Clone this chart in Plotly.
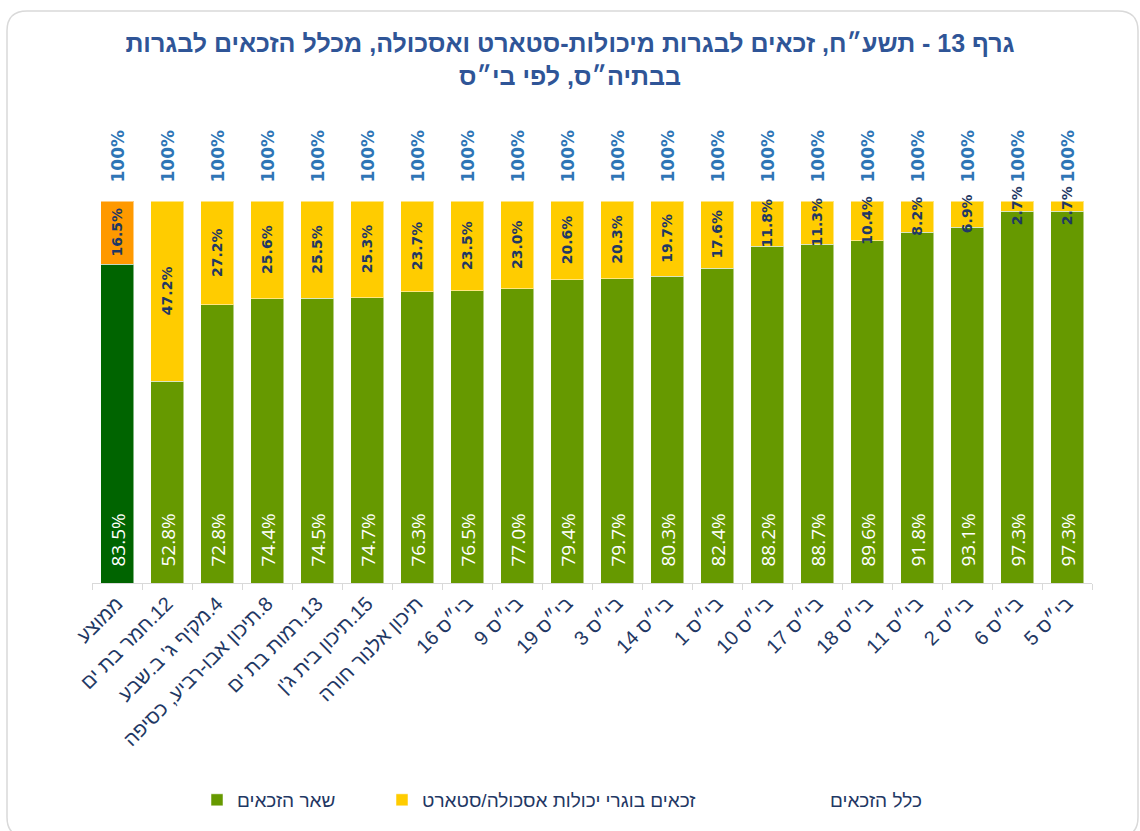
import plotly.graph_objects as go

RLM = "\u200f"

# ---------------- data ----------------
categories = [
    "ממוצע",
    RLM + "12.חמר בת ים",
    RLM + "4.מקיף ג' ב.שבע",
    RLM + "8.תיכון אבו-רביע, כסיפה",
    RLM + "13.רמות בת ים",
    RLM + "15.תיכון בית ג'ן",
    RLM + "תיכון אלנור חורה",
    RLM + "בי״ס 16",
    RLM + "בי״ס 9",
    RLM + "בי״ס 19",
    RLM + "בי״ס 3",
    RLM + "בי״ס 14",
    RLM + "בי״ס 1",
    RLM + "בי״ס 10",
    RLM + "בי״ס 17",
    RLM + "בי״ס 18",
    RLM + "בי״ס 11",
    RLM + "בי״ס 2",
    RLM + "בי״ס 6",
    RLM + "בי״ס 5",
]
other_pct = [83.5, 52.8, 72.8, 74.4, 74.5, 74.7, 76.3, 76.5, 77.0, 79.4,
             79.7, 80.3, 82.4, 88.2, 88.7, 89.6, 91.8, 93.1, 97.3, 97.3]
start_pct = [16.5, 47.2, 27.2, 25.6, 25.5, 25.3, 23.7, 23.5, 23.0, 20.6,
             20.3, 19.7, 17.6, 11.8, 11.3, 10.4, 8.2, 6.9, 2.7, 2.7]
total_pct = [100, 100, 100, 100, 100, 100, 100, 100, 100, 100,
             100, 100, 100, 100, 100, 100, 100, 100, 100, 100]

name_other = "שאר הזכאים"
name_start = "זכאים בוגרי יכולות אסכולה/סטארט"
name_total = "כלל הזכאים"
title_text = (RLM + "גרף 13 - תשע״ח, זכאים לבגרות מיכולות-סטארט ואסכולה, מכלל הזכאים לבגרות<br>"
              + RLM + "בבתיה״ס, לפי בי״ס")

# ---------------- styles ----------------
GREEN, GREEN_AVG = "#669900", "#006400"
YELLOW, ORANGE_AVG = "#FFCC00", "#FF9900"
NAVY = "#1F3864"
BLUE = "#2E75B6"
HEB_FONT = "Liberation Sans"
EDGE = dict(color="rgba(255,255,255,0.5)", width=1)

avg_x = categories[:1]
sch_x = categories[1:]

fig = go.Figure()
# bottom segments (average bar highlighted in its own colour)
fig.add_trace(go.Bar(x=avg_x, y=[v / 100 for v in other_pct[:1]], name=name_other,
                     marker=dict(color=GREEN_AVG, line=EDGE), showlegend=False,
                     legend="legend", hoverinfo="x+y"))
fig.add_trace(go.Bar(x=sch_x, y=[v / 100 for v in other_pct[1:]], name=name_other,
                     marker=dict(color=GREEN, line=EDGE), showlegend=True,
                     legend="legend", hoverinfo="x+y"))
# top segments
fig.add_trace(go.Bar(x=avg_x, y=[v / 100 for v in start_pct[:1]], name=name_start,
                     marker=dict(color=ORANGE_AVG, line=EDGE), showlegend=False,
                     legend="legend2", hoverinfo="x+y"))
fig.add_trace(go.Bar(x=sch_x, y=[v / 100 for v in start_pct[1:]], name=name_start,
                     marker=dict(color=YELLOW, line=EDGE), showlegend=True,
                     legend="legend2", hoverinfo="x+y"))
# totals (invisible series, labelled above the bars)
fig.add_trace(go.Scatter(x=categories, y=[v / 100 for v in total_pct], name=name_total,
                         mode="markers", marker=dict(color="rgba(0,0,0,0)", size=10),
                         showlegend=True, legend="legend3", hoverinfo="x+y"))

annotations = []
for c, g, s, t in zip(categories, other_pct, start_pct, total_pct):
    annotations.append(dict(
        x=c, y=0, xref="x", yref="y", text=f"{g:.1f}%", textangle=-90,
        yanchor="bottom", xanchor="center", yshift=14, showarrow=False,
        font=dict(family="Open Sans", size=19, color="white"),
    ))
    annotations.append(dict(
        x=c, y=(g + s / 2) / 100, xref="x", yref="y", text=f"{s:.1f}%", textangle=-90,
        yanchor="middle", xanchor="center", showarrow=False,
        font=dict(family="DejaVu Sans", size=14, color=NAVY, weight="bold"),
    ))
    annotations.append(dict(
        x=c, y=t / 100, xref="x", yref="y", text=f"{t:.0f}%", textangle=-90,
        yanchor="bottom", xanchor="center", yshift=16, showarrow=False,
        font=dict(family="DejaVu Sans", size=17, color=BLUE, weight="bold"),
    ))

# rounded frame around the chart (paper coordinates)
L, R, T, B = -0.085, 1.046, 1.4974, -0.665
rx, ry = 0.02, 0.052
frame_path = (f"M {L+rx},{T} L {R-rx},{T} Q {R},{T} {R},{T-ry} "
              f"L {R},{B+ry} Q {R},{B} {R-rx},{B} L {L+rx},{B} "
              f"Q {L},{B} {L},{B+ry} L {L},{T-ry} Q {L},{T} {L+rx},{T} Z")

legend_font = dict(family=HEB_FONT, size=19, color=NAVY)
legend_common = dict(orientation="h", yanchor="middle", y=-0.568, xanchor="left",
                     font=legend_font, bgcolor="rgba(0,0,0,0)")

fig.update_layout(
    width=1140, height=831,
    margin=dict(l=92, r=48, t=201, b=244),
    paper_bgcolor="white", plot_bgcolor="white",
    barmode="stack", bargap=0.34, showlegend=True,
    title=dict(text=title_text, x=0.5, xref="container", xanchor="center",
               y=1 - 52 / 831, yanchor="top",
               font=dict(family=HEB_FONT, size=25, color="#2F5597", weight="bold")),
    xaxis=dict(type="category", categoryorder="array", categoryarray=categories,
               range=[-0.5, len(categories) - 0.5],
               tickangle=-45, ticks="outside", tickson="boundaries",
               ticklen=6, tickcolor="#D9D9D9", showline=True, linecolor="#D9D9D9",
               linewidth=1, showgrid=False, automargin=False,
               tickfont=dict(family=HEB_FONT, size=20, color=NAVY)),
    yaxis=dict(range=[0, 1], visible=False, showgrid=False, fixedrange=True),
    legend=dict(x=0.105, **legend_common),
    legend2=dict(x=0.29, **legend_common),
    legend3=dict(x=0.698, **legend_common),
    annotations=annotations,
    shapes=[dict(type="path", xref="paper", yref="paper", path=frame_path,
                 line=dict(color="#D9D9D9", width=1.5), layer="below")],
)

fig.write_html("out.html", config={"displayModeBar": False},
               post_script="document.body.style.margin='0';")
